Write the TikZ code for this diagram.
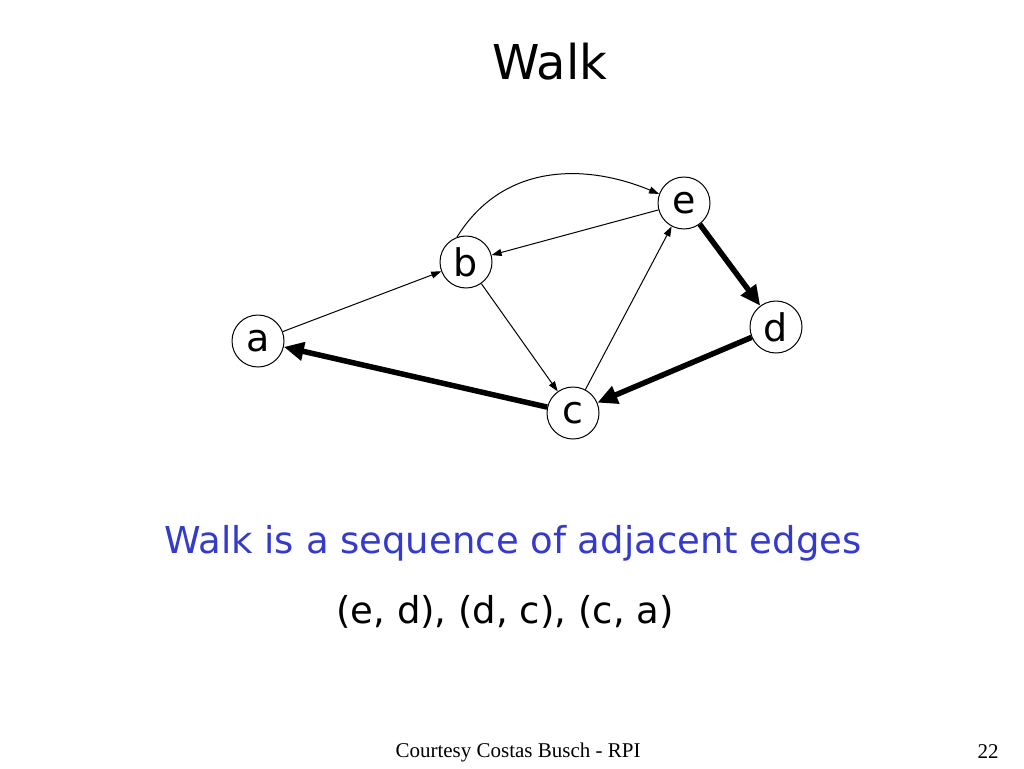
\documentclass[tikz,border=0pt]{standalone}
\usepackage{fontspec}
\setmainfont{DejaVu Sans}
\newfontfamily\footfont{Liberation Serif}
\usetikzlibrary{
    arrows.meta,
    positioning
}
\definecolor{walkblue}{RGB}{52,58,204}
\tikzset{
  vertex/.style={
    circle,
    draw,
    line width=1pt,
    minimum size=52pt,
    inner sep=0pt,
    font=\fontsize{38}{38}\selectfont
  },
  thinedge/.style={
    line width=1pt,
    -{Triangle[length=10pt,width=7pt]}
  },
  walkedge/.style={
    line width=5.5pt,
    -{Triangle[length=20pt,width=18pt]}
  }
}

\begin{document}
\begin{tikzpicture}[x=1pt,y=-1pt]
    \useasboundingbox (0,0) rectangle (1024,768);

    % 頂点
    \node[vertex] (a) at (258,341) {a};
    \node[vertex] (b) at (466,262) {b};
    \node[vertex] (c) at (573,413) {c};
    \node[vertex] (d) at (776,327) {d};
    \node[vertex] (e) at (684,203) {e};

    % 辺
    \draw[thinedge] (a) -- (b);
    \draw[thinedge] (e) -- (b);
    \draw[thinedge] (b) -- (c);
    \draw[thinedge] (c) -- (e);
    \draw[thinedge] (b.110) .. controls (505,160) and (590,165) .. (e.160);

    % 歩道
    \draw[walkedge] (e) -- (d);
    \draw[walkedge] (d) -- (c);
    \draw[walkedge] (c) -- (a);

    % ラベル
    \node (title) at (550,62) {\fontsize{48}{48}\selectfont Walk};
    \node[text=walkblue] (defn) at (513,543)
        {\fontsize{37}{37}\selectfont Walk is a sequence of adjacent edges};
    \node (walk) at (505,612) {\fontsize{37}{37}\selectfont (e, d), (d, c), (c, a)};
    \node (foot) at (518,752) {\footfont\fontsize{21}{21}\selectfont Courtesy Costas Busch - RPI};
    \node (page) at (988,752) {\footfont\fontsize{21}{21}\selectfont 22};
\end{tikzpicture}
\end{document}
